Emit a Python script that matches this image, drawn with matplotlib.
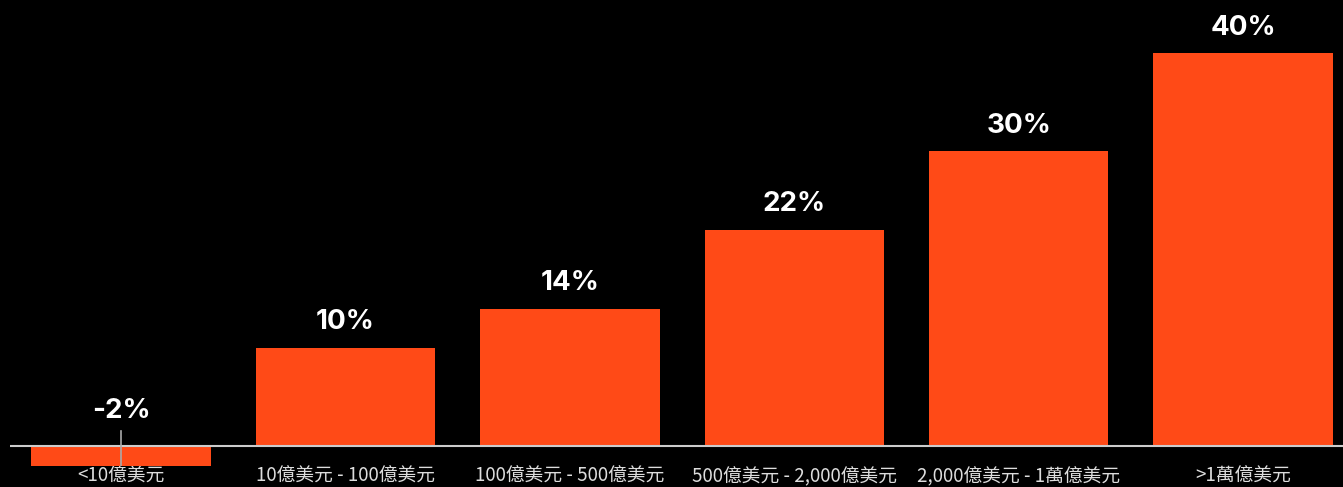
import matplotlib.pyplot as plt

plt.rcParams['font.family'] = ['Noto Sans CJK TC', 'DejaVu Sans']

categories = ["<10億美元", "10億美元 - 100億美元", "100億美元 - 500億美元",
              "500億美元 - 2,000億美元", "2,000億美元 - 1萬億美元", ">1萬億美元"]
values = [-2, 10, 14, 22, 30, 40]
labels = ["-2%", "10%", "14%", "22%", "30%", "40%"]

fig = plt.figure(figsize=(13.43, 4.87), dpi=100, facecolor="black")
ax = fig.add_axes([10/1343, 21/487, 1333/1343, 466/487])
ax.set_facecolor("black")

x = range(len(categories))
ax.bar(x, values, width=0.8, color="#FF4A17", zorder=2)
ax.axhline(0, color="#cccccc", lw=1.5, zorder=3)

# small gray tick at first category
ax.plot([0, 0], [-2, 1.6], color="#aaaaaa", lw=1.2, zorder=4)

# value labels above bars (negative one sits above the zero line)
for xi, v, lab in zip(x, values, labels):
    y = v + 2.6 if v > 0 else 3.6
    ax.text(xi, y, lab, ha="center", va="center",
            color="white", fontsize=20, fontweight="bold", family="Inter")

ax.set_xlim(-0.495, 5.445)
ax.set_ylim(-2, 45.4)
ax.set_xticks(list(x))
ax.set_xticklabels(categories, color="#dddddd", fontsize=13.5)
ax.tick_params(axis="x", length=0, pad=0)
ax.set_yticks([])
for s in ax.spines.values():
    s.set_visible(False)

plt.savefig("out.png", dpi=100, facecolor="black")
print("Saved out.png")
